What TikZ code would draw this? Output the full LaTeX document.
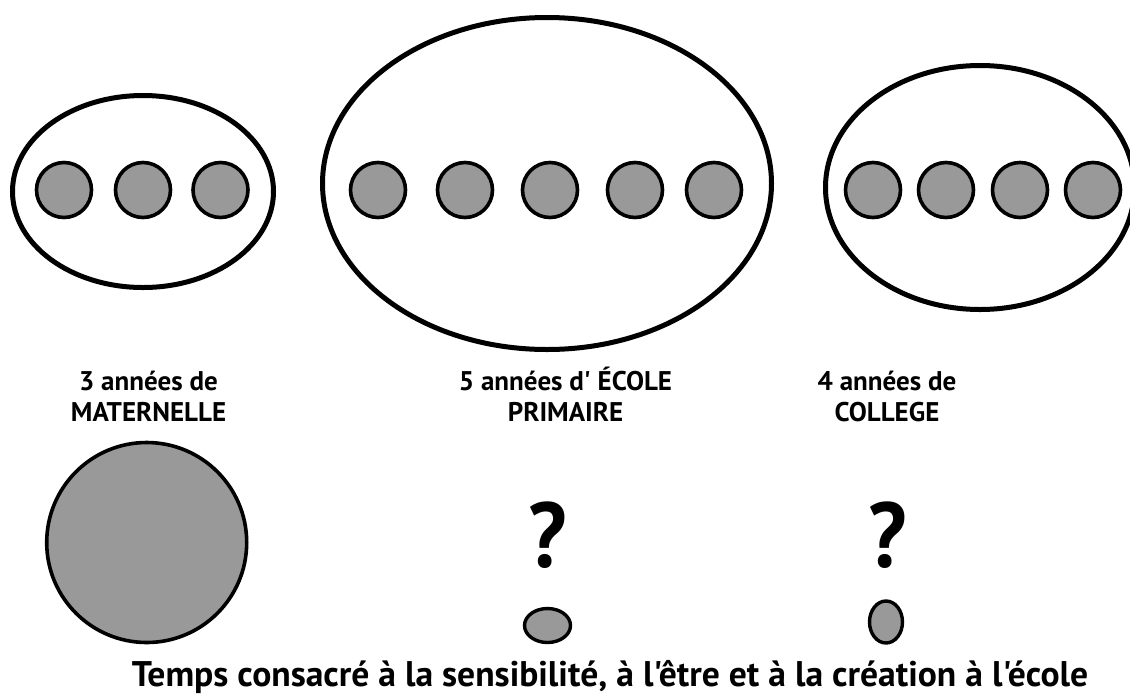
\documentclass[tikz,border=0pt]{standalone}
\usepackage{fontspec}
\setmainfont{PT Sans}[Ligatures=TeXOff]
\usetikzlibrary{shapes.geometric}
\definecolor{dotgray}{RGB}{153,153,153}
\tikzset{
  bigring/.style={draw=black, line width=5pt, ellipse, inner sep=0pt, fill=white},
  dot/.style={draw=black, line width=3.6pt, circle, fill=dotgray, inner sep=0pt, minimum size=55pt},
  smalloval/.style={draw=black, line width=3.4pt, ellipse, fill=dotgray, inner sep=0pt},
  lbl/.style={align=center, font=\fontsize{27pt}{31pt}\selectfont\bfseries, inner sep=0pt, anchor=base},
  qmark/.style={font=\fontsize{92pt}{92pt}\selectfont\bfseries, inner sep=0pt, anchor=base, xscale=0.92},
}
\begin{document}
\begin{tikzpicture}[x=1pt,y=-1pt]
\useasboundingbox (0,0) rectangle (1130,697);
% containers
\node[bigring, minimum width=261pt, minimum height=192pt] (mat) at (143,191.5) {};
\node[bigring, minimum width=449pt, minimum height=332pt] (pri) at (547,183.5) {};
\node[bigring, minimum width=309pt, minimum height=244pt] (col) at (980,187.5) {};
% years
\node[dot] (m1) at (64,190) {};
\node[dot] (m2) at (143,190) {};
\node[dot] (m3) at (220.5,190) {};
\node[dot] (p1) at (378,190) {};
\node[dot] (p2) at (465,190) {};
\node[dot] (p3) at (550,190) {};
\node[dot] (p4) at (635,190) {};
\node[dot] (p5) at (714,190) {};
\node[dot] (c1) at (873,190) {};
\node[dot] (c2) at (946,190) {};
\node[dot] (c3) at (1020,190) {};
\node[dot] (c4) at (1093,190) {};
% labels
\node[lbl] (lm) at (148.5,421) {3 années de\\MATERNELLE};
\node[lbl] (lp) at (565.5,421) {5 années d' ÉCOLE\\PRIMAIRE};
\node[lbl] (lc) at (887,421) {4 années de\\COLLEGE};
% time
\node[draw=black, line width=3.6pt, circle, fill=dotgray, inner sep=0pt, minimum size=200pt] (tm) at (146.7,542.5) {};
\node[qmark] (qp) at (547.5,567) {?};
\node[qmark] (qc) at (888,567) {?};
\node[smalloval, minimum width=46pt, minimum height=34pt] (tp) at (547.5,625.5) {};
\node[smalloval, minimum width=33pt, minimum height=42pt] (tc) at (886,622) {};
% title
\node[font=\fontsize{35.6pt}{36pt}\selectfont\bfseries, inner sep=0pt, anchor=base] (title) at (610,686) {Temps consacré à la sensibilité, à l'être et à la création à l'école};
\end{tikzpicture}
\end{document}
